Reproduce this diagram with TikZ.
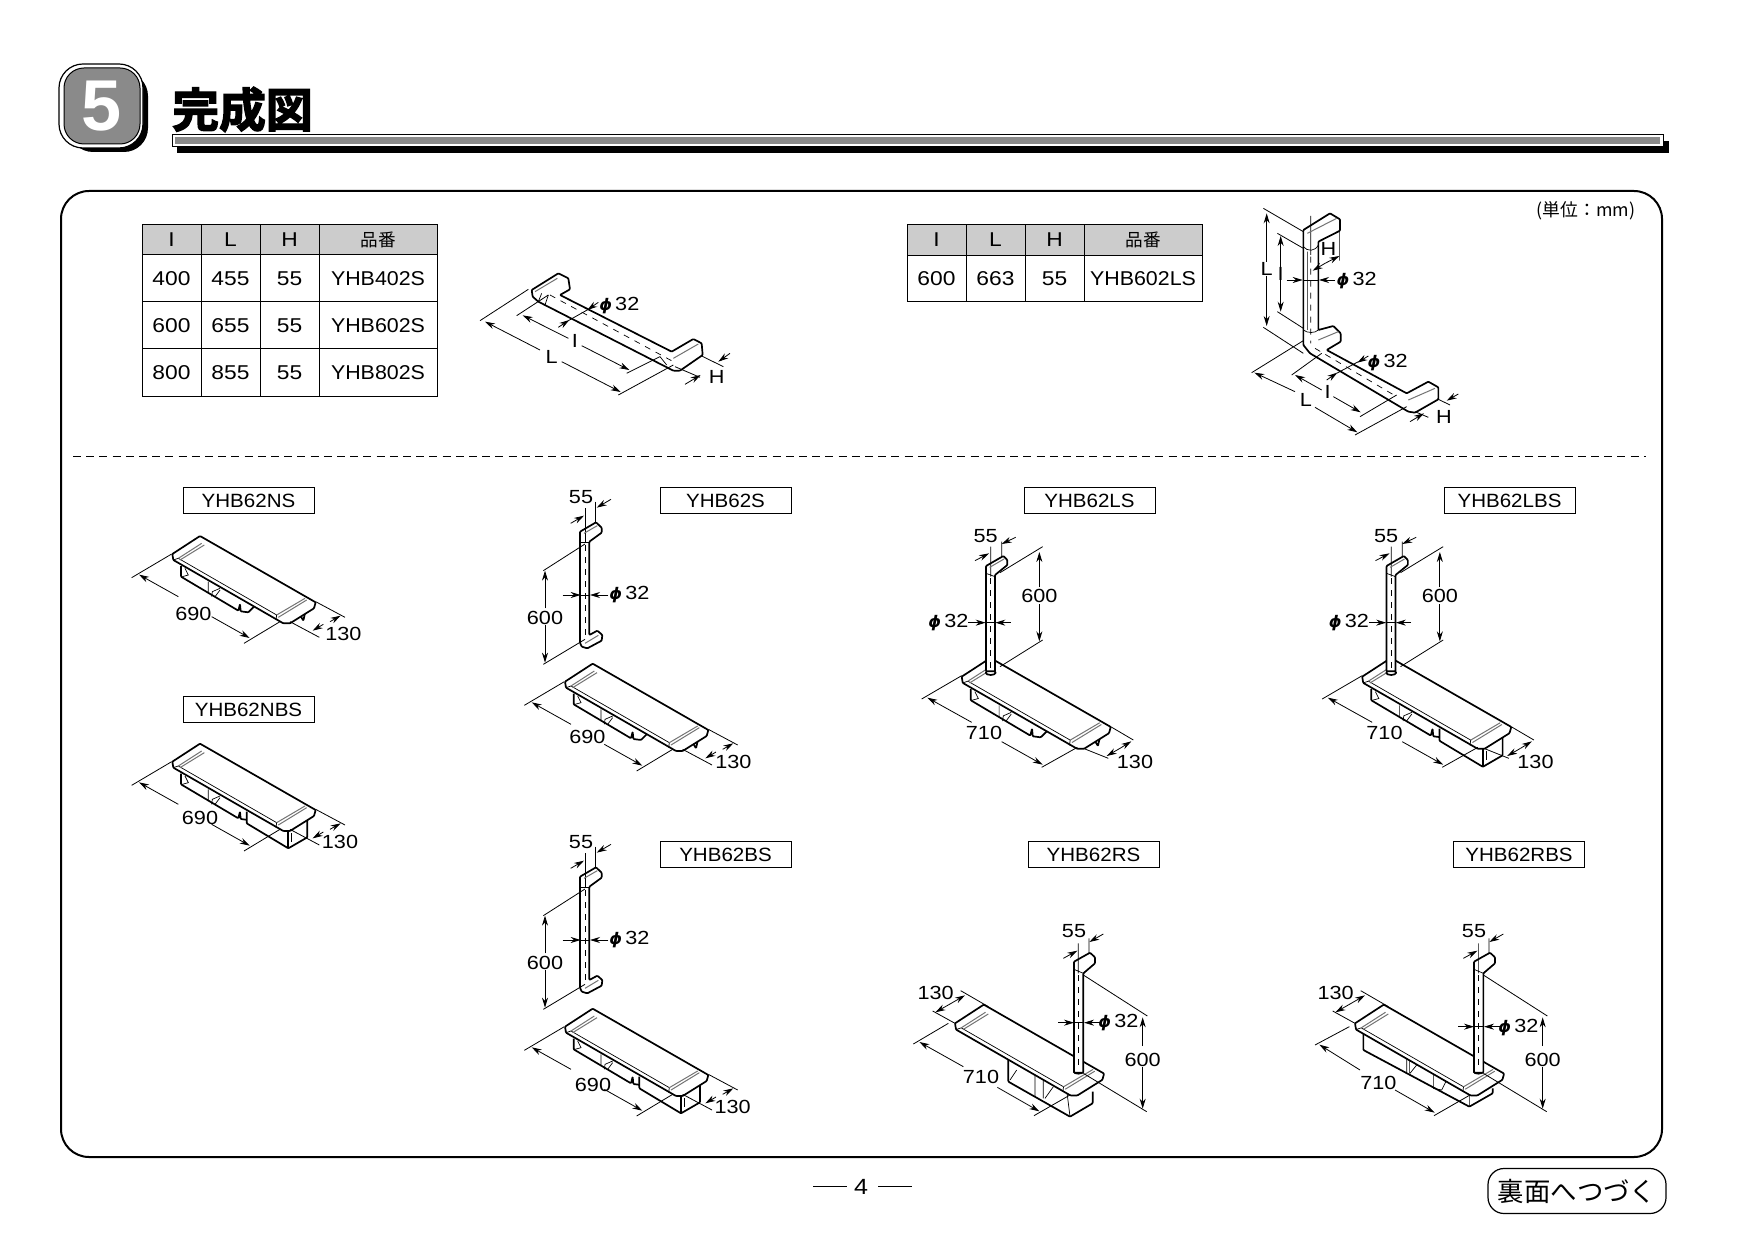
\documentclass[tikz,border=0pt]{standalone}
\usepackage{fontspec}
\setmainfont{Liberation Sans}
\newfontfamily\numfont[FakeStretch=1.14]{Liberation Sans}
\newfontfamily\partfont[FakeStretch=1.07]{Liberation Sans}
\newfontfamily\cjk{Noto Sans CJK JP}
\newfontfamily\cjkheavy[UprightFont=* Bold,FakeBold=3]{Noto Sans CJK JP}
\newfontfamily\phifont{DejaVu Sans}
\newcommand{\phisign}{{\phifont\bfseries\itshape\fontsize{8}{10}\selectfont ϕ}\,}
\usetikzlibrary{arrows.meta}
\definecolor{badgegray}{gray}{0.54}
\definecolor{headgray}{gray}{0.8}
\tikzset{
  zm/.style={scale=1/3},
  zmlong/.style={scale=0.3467},
  part/.style={draw=black, line width=0.85pt, fill=white, line join=round, rounded corners=0.4pt},
  hair/.style={draw=black, line width=0.35pt},
  graypart/.style={draw=black!55, line width=0.5pt},
  dimline/.style={draw=black, line width=0.4pt},
  dimarrow/.style={dimline, -{Stealth[length=5pt,width=3pt]}},
  dimtext/.style={font=\numfont\fontsize{9.5}{11}\selectfont, inner sep=0pt, yshift=-0.4pt},
  celltext/.style={font=\numfont\fontsize{10}{12}\selectfont, inner sep=0pt},
  cellpart/.style={font=\partfont\fontsize{10}{12}\selectfont, inner sep=0pt},
  cellhead/.style={font=\cjk\fontsize{8.8}{10}\selectfont, inner sep=0pt},
  namebox/.style={draw=black, line width=0.5pt, minimum width=65.5pt, minimum height=13pt, inner sep=0pt,
    font=\partfont\fontsize{9.6}{11}\selectfont},
  tableline/.style={draw=black, line width=0.5pt},
  % seat parts, coordinates from the seat's left corner
  benchtop/.pic={
    \draw[part] (0,0) -- (83,-54) -- (430,145) -- (425,163) -- (353,208) -- (333,208) -- (3,18) -- cycle;
    \draw[hair] (3,18) -- (18,13) -- (313,183) -- (311,198);
    \draw[graypart] (18,13) -- (88,-32) (23,18) -- (96,-27);
    \draw[graypart] (313,183) -- (398,133) (318,190) -- (403,138);
  },
  benchlegs/.pic={
    \draw[part] (26,36) -- (26,68) -- (198,170) -- (203,150) -- (205,172) -- (228,175) -- (245,158);
    \draw[hair] (38,43) -- (48,63) -- (30,68) (108,83) -- (108,118);
    \draw[hair] (118,128) -- (120,113) -- (143,103) (143,108) -- (128,128);
    \draw[part] (383,183) -- (393,200) -- (398,178);
  },
  benchbox/.pic={
    \draw[part] (223,150) -- (223,185) -- (348,260) -- (405,227) -- (405,175);
    \draw[part] (348,205) -- (348,260);
    \draw[hair] (358,215) -- (358,240);
  },
  benchrear/.pic={
    \draw[part] (160,105) -- (160,175) -- (345,280) -- (413,240) -- (413,205);
    \draw[hair] (240,150) -- (240,220) (265,165) -- (265,225) (185,140) -- (165,170);
    \draw[hair] (295,190) -- (270,225) (335,200) -- (345,280);
  },
  benchrearbox/.pic={
    \draw[part] (25,25) -- (25,80) -- (343,250) -- (413,210) -- (413,195);
    \draw[hair] (155,100) -- (155,150) (163,100) -- (163,150) (165,150) -- (185,125);
    \draw[hair] (235,155) -- (235,195) -- (260,200) -- (275,170) (343,210) -- (343,250);
  },
  % 690 and 130 dimensions of a seat, without their figures
  benchdims/.pic={
    \draw[dimline] (-2,0) -- (-122,71) (323,203) -- (215,268);
    \draw[dimarrow] (18,128) -- (-100,62);
    \draw[dimarrow] (118,188) -- (232,252);
    \draw[dimline] (430,143) -- (518,190) (353,203) -- (441,250);
    \draw[dimarrow] (453,211) -- (421,230);
    \draw[dimarrow] (473,203) -- (505,185);
  },
  % grab bar with two flanges, standing free
  railset/.pic={
    \draw[part] (210,155) -- (258,127) -- (275,143) -- (275,158) -- (238,185) -- (238,465) -- (262,452)
      -- (277,465) -- (275,482) -- (232,505) -- (215,500) -- (210,488) -- cycle;
    \draw[hair, dashed] (225,195) -- (225,480);
    \draw[hair] (212,187) -- (238,187) (225,85) -- (225,185) (257,65) -- (257,130);
    \draw[graypart] (222,160) -- (262,137) (225,490) -- (265,466);
    \draw[dimarrow] (182,130) -- (222,107);
    \draw[dimarrow] (303,58) -- (260,83);
    \node[dimtext] (d55) at (213,50) {55};
    \draw[dimline] (100,272) -- (225,192) (100,553) -- (225,478);
    \draw[dimarrow] (105,385) -- (105,272);
    \draw[dimarrow] (105,435) -- (105,548);
    \node[dimtext] (d600) at (105,410) {600};
    \draw[dimarrow] (158,345) -- (212,345);
    \draw[dimarrow] (295,345) -- (240,345);
    \draw[hair] (212,345) -- (240,345);
    \node[dimtext] (dphi) at (358,342) {\phisign 32};
  },
  % post with one flange on the seat's far left, figures on the right
  postset/.pic={
    \draw[part] (212,488) ellipse [x radius=15, y radius=7];
    \draw[part] (198,168) -- (250,138) -- (262,150) -- (262,165) -- (225,195) -- (225,484) -- (198,484) -- cycle;
    \draw[hair, dashed] (212,205) -- (212,480);
    \draw[hair] (212,110) -- (212,200) (245,95) -- (245,140) (198,190) -- (225,200);
    \draw[graypart] (209,172) -- (252,147);
    \draw[dimarrow] (165,152) -- (207,130);
    \draw[dimarrow] (287,82) -- (245,102);
    \node[dimtext] (d55) at (197,75) {55};
    \draw[dimline] (240,188) -- (368,110) (240,470) -- (368,390);
    \draw[dimarrow] (358,232) -- (358,126);
    \draw[dimarrow] (358,282) -- (358,394);
    \node[dimtext] (d600) at (358,254) {600};
    \draw[dimarrow] (145,338) -- (197,338);
    \draw[dimarrow] (272,338) -- (226,338);
    \draw[hair] (197,338) -- (226,338);
    \node[dimtext] (dphi) at (85,335) {\phisign 32};
    % seat dimensions of this long seat
    \draw[dimline] (125,497) -- (5,567) (472,712) -- (365,772);
    \draw[dimarrow] (155,637) -- (22,563);
    \draw[dimarrow] (245,695) -- (368,764);
    \node[dimtext] (d710) at (192,665) {710};
    \draw[dimline] (572,650) -- (640,690) (490,715) -- (565,745);
    \draw[dimarrow] (600,715) -- (560,738);
    \draw[dimarrow] (600,715) -- (634,694);
    \node[dimtext] (d130) at (645,752) {130};
  },
  % post at the near end of the seat
  rearset/.pic={
    \draw[part] (505,485) ellipse [x radius=14, y radius=6];
    \draw[part] (492,155) -- (540,128) -- (555,142) -- (555,160) -- (520,190) -- (520,488) -- (492,488) -- cycle;
    \draw[hair, dashed] (505,195) -- (505,480);
    \draw[hair] (505,100) -- (505,190) (537,85) -- (537,130) (492,178) -- (520,190);
    \draw[dimarrow] (460,145) -- (502,122);
    \draw[dimarrow] (580,72) -- (538,96);
    \node[dimtext] (d55) at (492,62) {55};
    \draw[dimline] (520,195) -- (712,318) (520,490) -- (710,605);
    \draw[dimarrow] (698,408) -- (698,322);
    \draw[dimarrow] (698,472) -- (698,596);
    \node[dimtext] (d600) at (698,447) {600};
    \draw[dimline] (152,242) -- (235,290) (68,303) -- (135,340);
    \draw[dimarrow] (120,282) -- (76,307);
    \draw[dimarrow] (120,282) -- (165,256);
    \node[dimtext] (d130) at (77,245) {130};
  },
}
\begin{document}
\begin{tikzpicture}[x=0.5pt, y=-0.5pt]
\useasboundingbox (0,0) rectangle (1754,1240);

% heading
\fill[black, rounded corners=12pt] (69,72) rectangle (148,152);
\draw[black, fill=white, line width=0.6pt, rounded corners=12pt] (59,64) rectangle (143,148);
\draw[black, fill=badgegray, line width=0.5pt, rounded corners=10pt] (64,68) rectangle (140,144);
\node[font=\bfseries\fontsize{36}{36}\selectfont, text=white, inner sep=0pt] (badge) at (102,106) {5};
\node[font=\cjkheavy\fontsize{23.4}{24}\selectfont, inner sep=0pt] (title) at (242.5,109.5) {完成図};
\fill[black] (177,141) rectangle (1669,153);
\draw[black, fill=white, line width=0.5pt] (172,135) rectangle (1663,147);
\fill[badgegray] (175,137.5) rectangle (1660,144);

% frame and its parts
\draw[black, line width=1pt, rounded corners=14pt] (61,191) rectangle (1662,1157);
\draw[dimline, dash pattern=on 4pt off 2.6pt] (73,456) -- (1646,456);
\node[font=\cjk\fontsize{8.9}{10}\selectfont, inner sep=0pt] (unit) at (1586,211) {(単位：mm)};

% first table
\fill[headgray] (142,225) rectangle (437,255);
\draw[tableline] (142,225) rectangle (437,397);
\foreach \x in {201,260,319} \draw[tableline] (\x,225) -- (\x,397);
\foreach \y in {255,302,349} \draw[tableline] (142,\y) -- (437,\y);
\node[celltext] (ai) at (171.5,240) {I};
\node[celltext] (al) at (230.5,240) {L};
\node[celltext] (ah) at (289.5,240) {H};
\node[cellhead] (ap) at (378,240) {品番};
\foreach \y/\i/\l/\p in {278.5/400/455/YHB402S, 325.5/600/655/YHB602S, 373/800/855/YHB802S} {
  \node[celltext] (a\i) at (171.5,\y) {\i};
  \node[celltext] (b\i) at (230.5,\y) {\l};
  \node[celltext] (c\i) at (289.5,\y) {55};
  \node[cellpart] (d\i) at (378,\y) {\p};
}

% second table
\fill[headgray] (907,225) rectangle (1202,256);
\draw[tableline] (907,225) rectangle (1202,302);
\foreach \x in {966,1025,1084} \draw[tableline] (\x,225) -- (\x,302);
\draw[tableline] (907,256) -- (1202,256);
\node[celltext] (ei) at (936.5,240) {I};
\node[celltext] (el) at (995.5,240) {L};
\node[celltext] (eh) at (1054.5,240) {H};
\node[cellhead] (ep) at (1143,240) {品番};
\node[celltext] (e600) at (936.5,279) {600};
\node[celltext] (e663) at (995.5,279) {663};
\node[celltext] (e55) at (1054.5,279) {55};
\node[cellpart] (ename) at (1143,279) {YHB602LS};

% straight bar
\begin{scope}[shift={(460,250)}, zm]
  \draw[part] (215,120) -- (295,70) -- (325,85) -- (330,118) -- (300,135) -- (635,305) -- (700,267) -- (725,280)
    -- (728,315) -- (660,362) -- (640,362) -- (235,155) -- (218,140) -- cycle;
  \draw[hair, dashed] (270,135) -- (640,335);
  \draw[hair] (245,130) -- (235,155) (265,135) -- (255,165) (600,320) -- (620,345);
  \draw[graypart] (225,125) -- (292,85) (640,325) -- (715,282);
  \draw[dimline] (205,118) -- (60,212) (640,345) -- (475,435);
  \draw[dimline] (265,135) -- (170,197) (600,320) -- (500,370);
  \draw[dimarrow] (240,300) -- (75,215);
  \draw[dimarrow] (305,335) -- (482,426);
  \node[dimtext] (barl) at (275,318) {L};
  \draw[dimarrow] (325,265) -- (188,196);
  \draw[dimarrow] (365,287) -- (508,360);
  \node[dimtext] (bari) at (345,270) {I};
  \draw[dimline] (325,212) -- (385,178);
  \draw[dimarrow] (295,232) -- (328,210);
  \draw[dimarrow] (415,157) -- (382,180);
  \node[dimtext] (barphi) at (478,165) {\phisign 32};
  \draw[dimline] (725,318) -- (790,350) (645,350) -- (720,382);
  \draw[dimarrow] (675,403) -- (722,375);
  \draw[dimarrow] (810,310) -- (775,335);
  \node[dimtext] (barh) at (770,380) {H};
\end{scope}

% L shaped bar
\begin{scope}[shift={(1220,190)}, zm]
  \draw[part] (250,120) -- (330,70) -- (360,88) -- (360,122) -- (295,155) -- (295,420) -- (340,408) -- (362,430)
    -- (362,455) -- (320,480) -- (560,610) -- (625,575) -- (655,592) -- (655,628) -- (585,668) -- (565,665)
    -- (270,490) -- (250,465) -- cycle;
  \draw[hair, dashed] (272,200) -- (272,460) (285,475) -- (530,620);
  \draw[hair] (262,185) -- (262,420) (250,170) .. controls (262,185) and (285,185) .. (295,165);
  \draw[hair] (250,420) .. controls (262,430) and (285,430) .. (295,420) (272,78) -- (272,195) (358,122) -- (358,212);
  \draw[graypart] (262,130) -- (350,85) (295,450) -- (355,425) (565,630) -- (645,595);
  \draw[dimline] (130,55) -- (250,125) (130,412) -- (250,490);
  \draw[dimarrow] (140,215) -- (140,70);
  \draw[dimarrow] (140,258) -- (140,408);
  \node[dimtext] (ltl) at (140,235) {L};
  \draw[dimline] (172,130) -- (250,175) (172,365) -- (250,415);
  \draw[dimarrow] (182,235) -- (182,138);
  \draw[dimarrow] (182,270) -- (182,365);
  \node[dimtext] (lti) at (182,250) {I};
  \draw[dimarrow] (315,220) -- (278,242);
  \draw[dimarrow] (315,220) -- (358,198);
  \node[dimtext] (lth) at (325,175) {H};
  \draw[dimarrow] (200,270) -- (248,270);
  \draw[dimarrow] (345,270) -- (297,270);
  \draw[hair] (248,270) -- (297,270);
  \node[dimtext] (ltphi) at (410,268) {\phisign 32};
  \draw[dimline] (250,452) -- (95,548) (560,650) -- (405,735);
  \draw[dimarrow] (225,605) -- (103,548);
  \draw[dimarrow] (285,652) -- (412,727);
  \node[dimtext] (lbl) at (258,628) {L};
  \draw[dimline] (305,490) -- (215,555) (530,615) -- (420,680);
  \draw[dimarrow] (305,600) -- (225,555);
  \draw[dimarrow] (340,620) -- (422,667);
  \node[dimtext] (lbi) at (323,605) {I};
  \draw[dimline] (350,550) -- (415,515);
  \draw[dimarrow] (320,570) -- (352,548);
  \draw[dimarrow] (445,498) -- (412,518);
  \node[dimtext] (lbphi) at (503,515) {\phisign 32};
  \draw[dimline] (585,665) -- (625,682) (655,628) -- (690,645);
  \draw[dimarrow] (570,695) -- (612,670);
  \draw[dimarrow] (715,612) -- (680,632);
  \node[dimtext] (lbh) at (672,680) {H};
\end{scope}

% names of the sets
\node[namebox] (ns) at (248.5,500.5) {YHB62NS};
\node[namebox] (nbs) at (248.5,709.5) {YHB62NBS};
\node[namebox] (s) at (725.5,500.5) {YHB62S};
\node[namebox] (ls) at (1089.5,500.5) {YHB62LS};
\node[namebox] (lbs) at (1509.5,500.5) {YHB62LBS};
\node[namebox] (bs) at (725.5,854.5) {YHB62BS};
\node[namebox] (rs) at (1093.5,854.5) {YHB62RS};
\node[namebox] (rbs) at (1519,854.5) {YHB62RBS};

% seats alone
\begin{scope}[shift={(110,480)}, zm]
  \pic[zm] at (187,222) {benchlegs};
  \pic[zm] at (187,222) {benchtop};
  \pic[zm] at (187,222) {benchdims};
  \node[dimtext] (ns690) at (250,400) {690};
  \node[dimtext] (ns130) at (700,458) {130};
  \pic[zm] at (187,845) {benchlegs};
  \pic[zm] at (187,845) {benchbox};
  \pic[zm] at (187,845) {benchtop};
  \pic[zm] at (187,845) {benchdims};
  \node[dimtext] (nbs690) at (270,1012) {690};
  \node[dimtext] (nbs130) at (690,1082) {130};
\end{scope}

% seats with a free bar
\begin{scope}[shift={(510,480)}, zm]
  \pic[zm] (sa) at (0,0) {railset};
  \pic[zm] at (165,605) {benchlegs};
  \pic[zm] at (165,605) {benchtop};
  \pic[zm] at (165,605) {benchdims};
  \node[dimtext] (s690) at (232,768) {690};
  \node[dimtext] (s130) at (670,842) {130};
\end{scope}
\begin{scope}[shift={(510,825)}, zm]
  \pic[zm] (sb) at (0,0) {railset};
  \pic[zm] at (165,605) {benchlegs};
  \pic[zm] at (165,605) {benchbox};
  \pic[zm] at (165,605) {benchtop};
  \pic[zm] at (165,605) {benchdims};
  \node[dimtext] (bs690) at (249,777) {690};
  \node[dimtext] (bs130) at (668,844) {130};
\end{scope}

% seats with a post at the far end
\begin{scope}[shift={(920,510)}, zm]
  \pic[zmlong] at (125,500) {benchlegs};
  \pic[zmlong] at (125,500) {benchtop};
  \pic[zm] (pa) at (0,0) {postset};
\end{scope}
\begin{scope}[shift={(1320.5,510)}, zm]
  \pic[zmlong] at (125,500) {benchlegs};
  \pic[zmlong] at (125,500) {benchbox};
  \pic[zmlong] at (125,500) {benchtop};
  \pic[zm] (pb) at (0,0) {postset};
\end{scope}

% seats with a post at the near end
\begin{scope}[shift={(910,910)}, zm]
  \pic[zm] at (135,340) {benchrear};
  \pic[zmlong] at (135,340) {benchtop};
  \pic[zm] (ra) at (0,0) {rearset};
  \draw[dimarrow] (445,338) -- (492,338);
  \draw[dimarrow] (570,338) -- (522,338);
  \draw[hair] (492,338) -- (522,338);
  \node[dimtext] (raphi) at (625,335) {\phisign 32};
  \draw[dimline] (115,340) -- (10,402) (480,555) -- (372,617);
  \draw[dimarrow] (160,470) -- (28,396);
  \draw[dimarrow] (262,532) -- (388,604);
  \node[dimtext] (ra710) at (213,498) {710};
\end{scope}
\begin{scope}[shift={(1310,910)}, zm]
  \pic[zm] at (135,340) {benchrearbox};
  \pic[zmlong] at (135,340) {benchtop};
  \pic[zm] (rb) at (0,0) {rearset};
  \draw[dimarrow] (445,350) -- (492,350);
  \draw[dimarrow] (570,350) -- (522,350);
  \draw[hair] (492,350) -- (522,350);
  \node[dimtext] (rbphi) at (625,350) {\phisign 32};
  \draw[dimline] (118,350) -- (15,405) (480,555) -- (372,617);
  \draw[dimarrow] (150,480) -- (28,404);
  \draw[dimarrow] (255,540) -- (374,608);
  \node[dimtext] (rb710) at (205,515) {710};
\end{scope}

% foot of the page
\node[font=\numfont\fontsize{11}{12}\selectfont, inner sep=0pt] (page) at (861,1187) {4};
\draw[black, line width=0.5pt] (813,1186) -- (847,1186) (878,1186) -- (912,1186);
\node[draw=black, line width=0.6pt, rounded corners=8pt, minimum width=89pt, minimum height=22.5pt, inner sep=0pt,
  font=\cjk\fontsize{13.2}{14}\selectfont] (turn) at (1577,1191) {裏面へつづく};
\end{tikzpicture}
\end{document}
